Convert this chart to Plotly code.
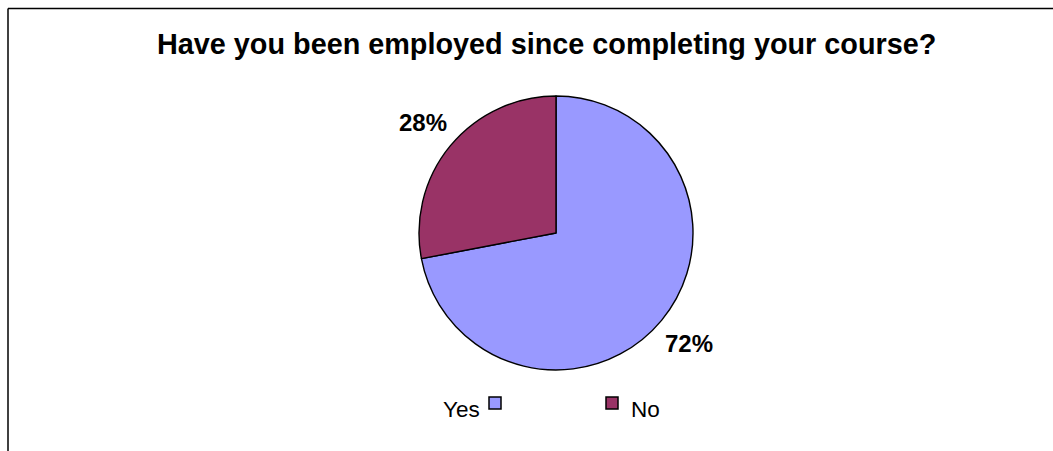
import math
import plotly.graph_objects as go

# Survey answers and their shares (percent)
labels = ["Yes", "No"]
values = [72, 28]
colors = ["#9999FF", "#993366"]
title_text = "Have you been employed since completing your course?"

W, H = 1053, 451
FONT = "Arial, Liberation Sans, sans-serif"

# pie geometry in pixels
cx, cy, r = 556, 233, 137
label_gap = 36


def px(x):
    return x / W


def py(y):
    return 1 - y / H


fig = go.Figure(
    go.Pie(
        labels=labels,
        values=values,
        marker=dict(colors=colors, line=dict(color="black", width=1.4)),
        sort=False,
        direction="clockwise",
        rotation=0,
        textinfo="none",
        hoverinfo="label+percent",
        showlegend=False,
        domain=dict(x=[px(cx - r), px(cx + r)], y=[py(cy + r), py(cy - r)]),
    )
)

annotations = []
shapes = []

# percentage labels placed outside each slice at its mid-angle
total = sum(values)
start = 0.0
for lab, v in zip(labels, values):
    frac = v / total
    mid = (start + frac / 2) * 2 * math.pi
    start += frac
    lx = cx + (r + label_gap) * math.sin(mid)
    ly = cy - (r + label_gap) * math.cos(mid)
    annotations.append(dict(
        x=px(lx), y=py(ly), xref="paper", yref="paper",
        text=f"<b>{round(100 * frac)}%</b>", showarrow=False,
        xanchor="center", yanchor="middle",
        font=dict(family=FONT, size=24, color="black"),
    ))

# title
annotations.append(dict(
    x=px(546), y=py(44), xref="paper", yref="paper",
    text=f"<b>{title_text}</b>", showarrow=False,
    xanchor="center", yanchor="middle",
    font=dict(family=FONT, size=28.8, color="black"),
))

# legend: "Yes" text before its key, "No" text after its key
legend_keys = [(489, 397), (606, 397)]
annotations.append(dict(
    x=px(482), y=py(409), xref="paper", yref="paper",
    text=labels[0], showarrow=False, xanchor="right", yanchor="middle",
    font=dict(family=FONT, size=22.5, color="black"),
))
annotations.append(dict(
    x=px(629), y=py(409), xref="paper", yref="paper",
    text=labels[1], showarrow=False, xanchor="left", yanchor="middle",
    font=dict(family=FONT, size=22.5, color="black"),
))
for (kx, ky), col in zip(legend_keys, colors):
    shapes.append(dict(
        type="rect", xref="paper", yref="paper",
        x0=px(kx), x1=px(kx + 12), y0=py(ky + 12), y1=py(ky),
        fillcolor=col, line=dict(color="black", width=1.5),
    ))

# chart-area frame (top and left edges visible)
shapes.append(dict(type="line", xref="paper", yref="paper",
                   x0=px(8), x1=px(W + 5), y0=py(8.5), y1=py(8.5),
                   line=dict(color="black", width=1.5)))
shapes.append(dict(type="line", xref="paper", yref="paper",
                   x0=px(8), x1=px(8), y0=py(8.5), y1=py(H + 5),
                   line=dict(color="black", width=1.5)))

fig.update_layout(
    width=W, height=H,
    margin=dict(l=0, r=0, t=0, b=0),
    paper_bgcolor="white", plot_bgcolor="white",
    annotations=annotations, shapes=shapes,
)

fig.write_html("out.html")
